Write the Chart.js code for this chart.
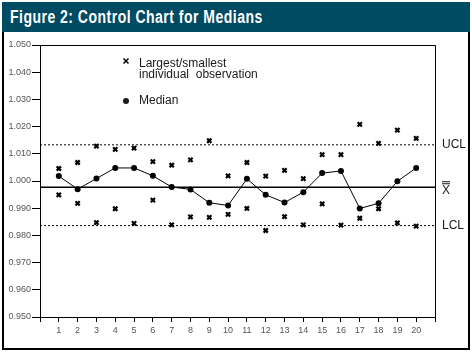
<!DOCTYPE html>
<html>
<head>
<meta charset="utf-8">
<script src="https://cdn.jsdelivr.net/npm/chart.js@4.4.0/dist/chart.umd.min.js"></script>
<style>
  html, body { margin: 0; padding: 0; background: #fff; width: 472px; height: 353px; overflow: hidden; }
  #frame { position: absolute; left: 2px; top: 2px; width: 464px; height: 344px; border: 2px solid #000; }
  #titlebar { position: absolute; left: 2px; top: 2px; width: 468px; height: 30px; background: #004a62; z-index: 2; }
  #titlebar span { position: absolute; left: 8px; top: 5px; color: #fff; font: bold 18px "Liberation Sans Narrow", "Liberation Sans", sans-serif; letter-spacing: 0.6px; white-space: nowrap; transform: scaleX(0.78); transform-origin: left top; }
  #chart { position: absolute; left: 0; top: 0; z-index: 1; }
</style>
</head>
<body>
<div id="frame"></div>
<div id="titlebar"><span>Figure 2: Control Chart for Medians</span></div>
<canvas id="chart" width="472" height="353"></canvas>
<script>
// sample numbers on the x axis
const sampleNo = [1, 2, 3, 4, 5, 6, 7, 8, 9, 10, 11, 12, 13, 14, 15, 16, 17, 18, 19, 20];

// median of each sample
const medians = [1.0018, 0.9970, 1.0009, 1.0048, 1.0048, 1.0019, 0.9978, 0.9969, 0.9920, 0.9910,
                 1.0008, 0.9949, 0.9921, 0.9959, 1.0029, 1.0037, 0.9899, 0.9918, 0.9999, 1.0048];

// largest and smallest individual observation
const largest = [1.0046, 1.0068, 1.0128, 1.0116, 1.0121, 1.0071, 1.0058, 1.0078, 1.0148, 1.0019,
                 1.0068, 1.0018, 1.0039, 1.0009, 1.0097, 1.0097, 1.0208, 1.0138, 1.0187, 1.0157];
const smallest = [0.9949, 0.9918, 0.9847, 0.9898, 0.9844, 0.9930, 0.9839, 0.9868, 0.9866, 0.9877,
                  0.9899, 0.9818, 0.9869, 0.9839, 0.9916, 0.9838, 0.9863, 0.9898, 0.9846, 0.9834];

// control limits
const ucl = 1.0133;
const centre = 0.9977;
const lcl = 0.9836;

const xMin = 0, xMax = 21;
const yMin = 0.95, yMax = 1.05, yStep = 0.01;

const fam = '"Liberation Sans", Arial, sans-serif';

const pts = (arr) => arr.map((v, i) => ({ x: sampleNo[i], y: v }));
const hline = (v) => [{ x: xMin, y: v }, { x: xMax, y: v }];

const extras = {
  id: 'extras',
  afterDraw(chart) {
    const ctx = chart.ctx;
    const a = chart.chartArea;
    const y = chart.scales.y;
    ctx.save();
    // box top + right
    ctx.strokeStyle = '#000';
    ctx.lineWidth = 1;
    ctx.beginPath();
    ctx.moveTo(a.left, Math.round(a.top) + 0.5);
    ctx.lineTo(Math.round(a.right) + 0.5, Math.round(a.top) + 0.5);
    ctx.lineTo(Math.round(a.right) + 0.5, a.bottom);
    ctx.stroke();

    // limit labels
    ctx.fillStyle = '#1a1a1a';
    ctx.font = '12px ' + fam;
    ctx.textBaseline = 'middle';
    ctx.textAlign = 'left';
    const lx = a.right + 7;
    ctx.fillText('UCL', lx, y.getPixelForValue(ucl));
    ctx.fillText('LCL', lx, y.getPixelForValue(lcl));
    const yc = y.getPixelForValue(centre) + 3;
    ctx.fillText('X', lx, yc);
    ctx.fillRect(lx, yc - 9, 8, 1);
    ctx.fillRect(lx, yc - 7, 8, 1);

    // legend
    const gx = a.left + 86, gy = a.top + 16;
    ctx.strokeStyle = '#000';
    ctx.lineWidth = 1.5;
    ctx.beginPath();
    ctx.moveTo(gx - 2.5, gy - 2.5); ctx.lineTo(gx + 2.5, gy + 2.5);
    ctx.moveTo(gx + 2.5, gy - 2.5); ctx.lineTo(gx - 2.5, gy + 2.5);
    ctx.stroke();
    ctx.fillText('Largest/smallest', gx + 13, gy + 3);
    ctx.fillText('individual  observation', gx + 13, gy + 14);
    ctx.beginPath();
    ctx.arc(gx, gy + 40, 3, 0, Math.PI * 2);
    ctx.fill();
    ctx.fillText('Median', gx + 13, gy + 39.5);
    ctx.restore();
  }
};

new Chart(document.getElementById('chart'), {
  type: 'scatter',
  data: {
    datasets: [
      {
        label: 'Median',
        data: pts(medians),
        showLine: true,
        borderColor: '#000',
        borderWidth: 1,
        backgroundColor: '#000',
        pointRadius: 3,
        pointBorderWidth: 0,
        pointStyle: 'circle'
      },
      {
        label: 'Largest',
        data: pts(largest),
        borderColor: '#000',
        pointStyle: 'crossRot',
        pointRadius: 3,
        pointBorderWidth: 2.2
      },
      {
        label: 'Smallest',
        data: pts(smallest),
        borderColor: '#000',
        pointStyle: 'crossRot',
        pointRadius: 3,
        pointBorderWidth: 2.2
      },
      {
        label: 'UCL',
        data: hline(ucl),
        showLine: true,
        borderColor: '#000',
        borderWidth: 1,
        borderDash: [2, 2],
        pointRadius: 0
      },
      {
        label: 'Centre',
        data: hline(centre),
        showLine: true,
        borderColor: '#000',
        borderWidth: 1.5,
        pointRadius: 0
      },
      {
        label: 'LCL',
        data: hline(lcl),
        showLine: true,
        borderColor: '#000',
        borderWidth: 1,
        borderDash: [2, 2],
        pointRadius: 0
      }
    ]
  },
  options: {
    responsive: false,
    animation: false,
    events: [],
    layout: { padding: { left: 0, top: 45, right: 37, bottom: 0 } },
    plugins: { legend: { display: false }, tooltip: { enabled: false } },
    scales: {
      x: {
        type: 'linear',
        min: xMin,
        max: xMax,
        ticks: {
          stepSize: 1,
          autoSkip: false,
          maxRotation: 0,
          color: '#555',
          font: { size: 9, family: fam },
          padding: 3,
          callback: (v) => (v >= 1 && v <= 20) ? String(v) : ''
        },
        grid: { drawOnChartArea: false, tickLength: 5, color: '#000', tickColor: '#000' },
        border: { color: '#000', width: 1 },
        afterFit: (s) => { s.height = 36; }
      },
      y: {
        min: yMin,
        max: yMax,
        ticks: {
          stepSize: yStep,
          color: '#555',
          font: { size: 9, family: fam },
          padding: 1,
          callback: (v) => v.toFixed(3)
        },
        grid: { drawOnChartArea: false, tickLength: 8, color: '#000', tickColor: '#000' },
        border: { color: '#000', width: 1 },
        afterFit: (s) => { s.width = 40; }
      }
    }
  },
  plugins: [extras]
});
</script>
</body>
</html>
